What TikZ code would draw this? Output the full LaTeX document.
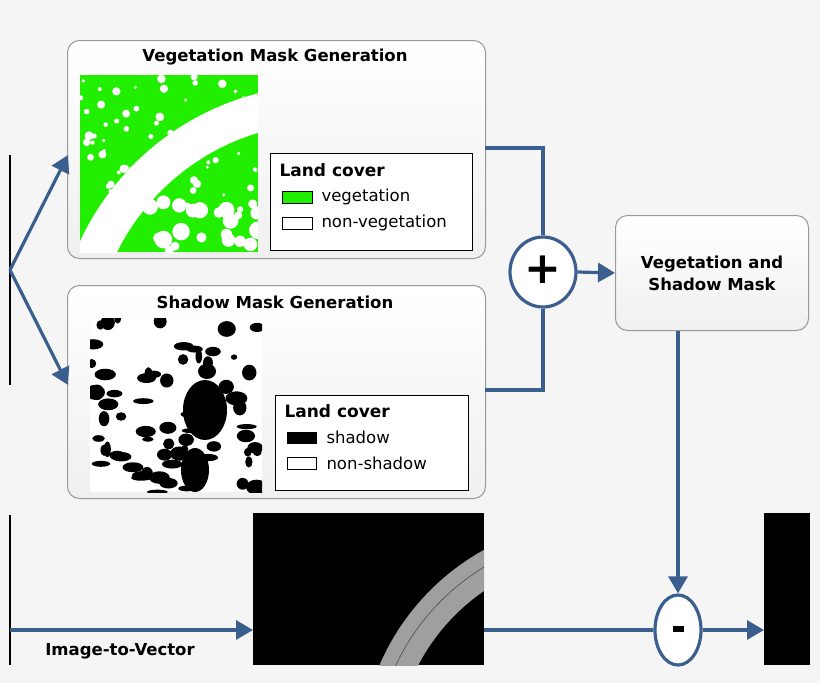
\documentclass[tikz,border=0pt]{standalone}
\usepackage{fontspec}
\setmainfont{DejaVu Sans}
\usetikzlibrary{arrows.meta,shapes.geometric}
\definecolor{bg}{HTML}{F5F5F5}
\definecolor{ln}{HTML}{3A5F8F}
\definecolor{vg}{HTML}{22EE00}
\tikzset{
 conn/.style={ln, line width=3.2pt},
 arr/.style={conn, -{Triangle[length=17pt,width=19pt]}},
 panel/.style={draw=gray!80, line width=1pt, rounded corners=12pt, top color=white, bottom color=gray!12},
 legend/.style={draw=black, line width=1pt, fill=white},
 ttl/.style={font=\bfseries\fontsize{16.5}{19}\selectfont},
 lt/.style={font=\fontsize{16.5}{19}\selectfont, anchor=west},
 lh/.style={font=\bfseries\fontsize{17}{19}\selectfont, anchor=west},
 op/.style={draw=ln, line width=3.2pt, fill=white, ellipse},
}
\begin{document}
\begin{tikzpicture}[x=1pt,y=-1pt]
\useasboundingbox[fill=bg] (0,0) rectangle (820,683);
% left bars
\draw[line width=1.2pt] (10,155) -- (10,385);
\draw[line width=1.2pt] (10,515) -- (10,665);
\coordinate (split) at (10,270);
% vegetation panel
\node[panel, minimum width=418pt, minimum height=218pt, anchor=north west] (veg) at (67,40) {};
\node[ttl] (vegt) at (275,57) {Vegetation Mask Generation};
\begin{scope}
\clip (80,75) rectangle (258,252);
\fill[vg] (80,75) rectangle (258,252);
\fill[white, even odd rule] (325,355) circle[radius=270] circle[radius=232];
\pgfmathsetseed{7}
\foreach \i in {1,...,60}{
 \pgfmathsetmacro\xx{80+178*rnd}\pgfmathsetmacro\yy{75+120*rnd}
 \fill[white] (\xx,\yy) circle[radius={1.5+3*rnd}];}
\foreach \i in {1,...,25}{
 \pgfmathsetmacro\xx{150+108*rnd}\pgfmathsetmacro\yy{200+52*rnd}
 \fill[white] (\xx,\yy) circle[radius={3+6*rnd}];}
\end{scope}
\node[legend, minimum width=202pt, minimum height=97pt, anchor=north west] (vleg) at (270,153) {};
\node[lh] at (276,170) {Land cover};
\draw[fill=vg] (282,191) rectangle (312,203);
\node[lt] at (318,197) {vegetation};
\draw[fill=white] (282,217) rectangle (312,229);
\node[lt] at (318,223) {non-vegetation};
% shadow panel
\node[panel, minimum width=418pt, minimum height=213pt, anchor=north west] (sha) at (67,285) {};
\node[ttl] (shat) at (275,302) {Shadow Mask Generation};
\begin{scope}
\clip (90,318) rectangle (262,492);
\fill[white] (90,318) rectangle (262,492);
\pgfmathsetseed{3}
\foreach \i in {1,...,70}{
 \pgfmathsetmacro\xx{90+172*rnd}\pgfmathsetmacro\yy{318+174*rnd}
 \fill[black] (\xx,\yy) ellipse[x radius={3+8*rnd}, y radius={2+6*rnd}];}
\fill[black] (205,410) ellipse[x radius=22, y radius=30];
\fill[black] (195,470) ellipse[x radius=14, y radius=22];
\end{scope}
\node[legend, minimum width=193pt, minimum height=95pt, anchor=north west] (sleg) at (275,395) {};
\node[lh] at (281,411) {Land cover};
\draw[fill=black] (287,432) rectangle (316,443);
\node[lt] at (323,437) {shadow};
\draw[fill=white] (287,457) rectangle (316,469);
\node[lt] at (323,463) {non-shadow};
% arrows from split
\draw[arr] (split) -- (68,155);
\draw[arr] (split) -- (68,385);
% plus
\node[op, minimum width=66pt, minimum height=70pt] (plus) at (543,272) {};
\node[font=\bfseries\fontsize{44}{44}\selectfont] at (543,270) {+};
\draw[conn] (485,148) -- (543,148) -- (plus.north);
\draw[conn] (485,390) -- (543,390) -- (plus.south);
% combined mask
\node[panel, minimum width=193pt, minimum height=115pt, anchor=north west, align=center, font=\bfseries\fontsize{16.5}{22}\selectfont] (vsm) at (615,215) {Vegetation and\\Shadow Mask};
\draw[arr] (plus.east) -- (vsm.west);
% bottom
\fill[black] (253,513) rectangle (484,665);
\begin{scope}
\clip (253,513) rectangle (484,665);
\fill[gray!75, even odd rule] (600,760) circle[radius=240] circle[radius=205];
\draw[black!70, line width=0.6pt] (600,760) circle[radius=225];
\end{scope}
\node[inner sep=0pt, minimum width=231pt, minimum height=152pt, anchor=north west] (img) at (253,513) {};
\fill[black] (764,513) rectangle (810,665);
\node[inner sep=0pt, minimum width=46pt, minimum height=152pt, anchor=north west] (out) at (764,513) {};
\node[op, minimum width=46pt, minimum height=70pt] (minus) at (678,630) {};
\fill[black] (673,626) rectangle (684,632);
\coordinate (inl) at (10,630);
\draw[arr] (inl) -- (img.west |- inl);
\draw[conn] (484,630) -- (minus.west);
\draw[arr] (minus.east) -- (out.west |- minus);
\draw[arr] (vsm.south -| minus) -- (minus.north);
\node[font=\bfseries\fontsize{16.5}{19}\selectfont] (itv) at (120,651) {Image-to-Vector};
\end{tikzpicture}
\end{document}
